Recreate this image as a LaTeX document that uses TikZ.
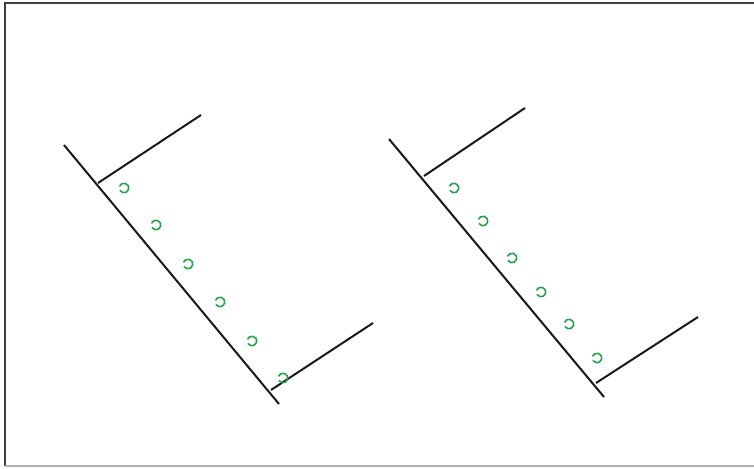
\documentclass[tikz,border=0pt]{standalone}
\definecolor{hookgreen}{RGB}{40,160,80}
\begin{document}
\begin{tikzpicture}[x=1pt,y=-1pt,
  bar/.style={draw=black!90,line width=2pt},
  frame/.style={draw=black!75,line width=1.5pt},
  hook/.style={draw=hookgreen,line width=1.6pt}]
\useasboundingbox (0,0) rectangle (754,468);
\draw[frame] (760,3) -- (5,3) -- (5,466);
\draw[draw=black!30,line width=1.2pt] (5,466) -- (760,466);
% left ladder
\coordinate (La) at (64,145); \coordinate (Lb) at (279,404);
\coordinate (Lt1) at (98,183); \coordinate (Lt2) at (201,115);
\coordinate (Lu1) at (271,390); \coordinate (Lu2) at (373,323);
\draw[bar] (La) -- (Lb);
\draw[bar] (Lt1) -- (Lt2);
\draw[bar] (Lu1) -- (Lu2);
% right ladder
\coordinate (Ra) at (389,139); \coordinate (Rb) at (604,397);
\coordinate (Rt1) at (424,176); \coordinate (Rt2) at (525,108);
\coordinate (Ru1) at (596,383); \coordinate (Ru2) at (698,317);
\draw[bar] (Ra) -- (Rb);
\draw[bar] (Rt1) -- (Rt2);
\draw[bar] (Ru1) -- (Ru2);
% hooks
\foreach \x/\y in {124/188,156/225,188/264,220/302,252/341,283/378,
                   454/188,483/221,512/258,541/292,569/324,597/358}{
  \draw[hook] ([shift={(150:4.8)}]\x,\y) arc[start angle=150,end angle=-160,radius=4.8];
}
\end{tikzpicture}
\end{document}
